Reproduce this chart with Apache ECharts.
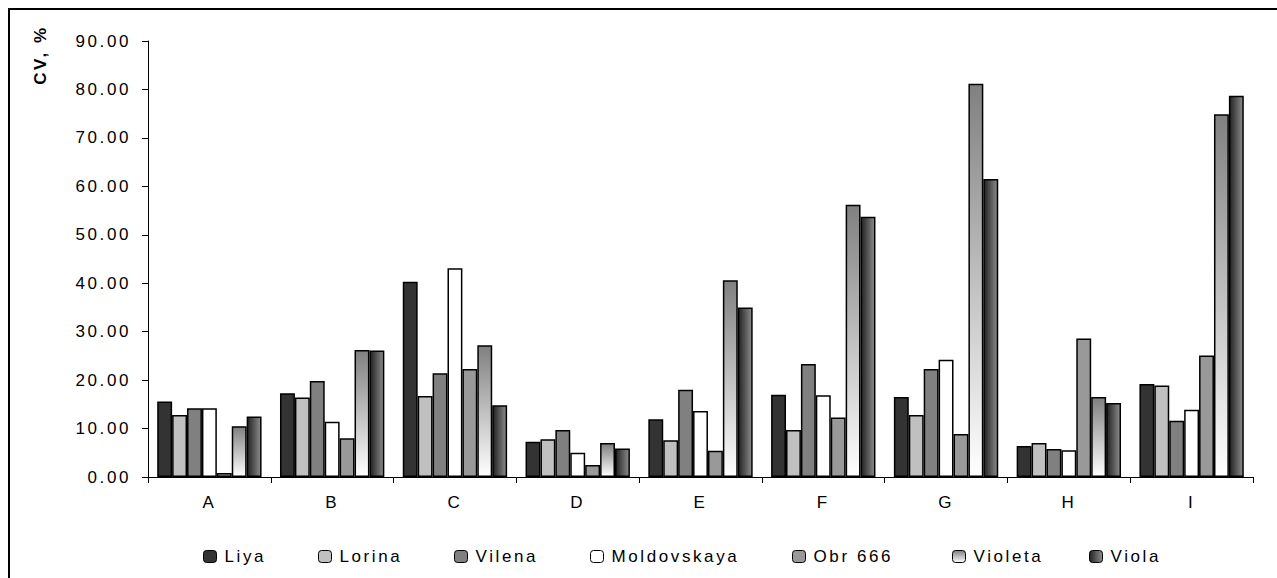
<!DOCTYPE html>
<html>
<head>
<meta charset="utf-8">
<script src="https://cdn.jsdelivr.net/npm/echarts@6/dist/echarts.min.js"></script>
<style>
  html, body { margin: 0; padding: 0; background: #fff; }
  #chart { width: 1277px; height: 578px; }
  /* the original (Excel) text is spread out */
  #chart text { letter-spacing: 2.6px; }
</style>
</head>
<body>
<div id="chart"></div>
<script>
const categories = ['A', 'B', 'C', 'D', 'E', 'F', 'G', 'H', 'I'];
const yTicks = [0, 90, 10]; // min, max, step

const liya        = [15.6, 17.3, 40.3, 7.3, 11.9, 17.0, 16.5, 6.4, 19.2];
const lorina      = [12.8, 16.4, 16.7, 7.8, 7.6, 9.7, 12.8, 7.0, 18.9];
const vilena      = [14.2, 19.8, 21.4, 9.7, 18.0, 23.3, 22.3, 5.8, 11.6];
const moldovskaya = [14.2, 11.4, 43.1, 5.0, 13.6, 16.9, 24.2, 5.5, 13.9];
const obr666      = [0.8, 8.0, 22.3, 2.5, 5.4, 12.3, 8.9, 28.6, 25.1];
const violeta     = [10.5, 26.2, 27.2, 7.0, 40.6, 56.2, 81.2, 16.5, 74.9];
const viola       = [12.5, 26.1, 14.8, 5.9, 35.0, 53.7, 61.5, 15.3, 78.7];

const font = "Arial, 'Liberation Sans', sans-serif";

const fills = {
  'Liya': '#333333',
  'Lorina': '#c0c0c0',
  'Vilena': '#808080',
  'Moldovskaya': '#ffffff',
  'Obr 666': '#999999',
  'Violeta': new echarts.graphic.LinearGradient(0, 0, 0, 1, [
    { offset: 0, color: '#808080' },
    { offset: 1, color: '#ffffff' }
  ]),
  'Viola': new echarts.graphic.LinearGradient(0, 0, 1, 0, [
    { offset: 0, color: '#222222' },
    { offset: 1, color: '#8c8c8c' }
  ])
};

const seriesData = [
  ['Liya', liya], ['Lorina', lorina], ['Vilena', vilena], ['Moldovskaya', moldovskaya],
  ['Obr 666', obr666], ['Violeta', violeta], ['Viola', viola]
];

// one legend per item so each sits where Excel put it
const legendLeft = [203, 318, 454, 590, 792, 952, 1089];

const chart = echarts.init(document.getElementById('chart'), null, { renderer: 'svg' });

chart.setOption({
  animation: false,
  backgroundColor: '#fff',
  grid: { left: 148, right: 24, top: 41, bottom: 101 },
  legend: seriesData.map(function (s, i) {
    return {
      data: [s[0]],
      left: legendLeft[i],
      top: 548,
      padding: 0,
      itemWidth: 13,
      itemHeight: 12,
      itemGap: 0,
      itemStyle: { borderColor: '#000', borderWidth: 1 },
      textStyle: { fontFamily: font, fontSize: 17, color: '#000', padding: [0, 0, 0, 3] }
    };
  }),
  xAxis: {
    type: 'category',
    data: categories,
    axisLine: { lineStyle: { color: '#000', width: 1 } },
    axisTick: { show: true, length: 6, lineStyle: { color: '#000' } },
    axisLabel: { fontFamily: font, fontSize: 17, color: '#000', margin: 17 }
  },
  yAxis: {
    type: 'value',
    min: yTicks[0],
    max: yTicks[1],
    interval: yTicks[2],
    splitLine: { show: false },
    axisLine: { show: true, lineStyle: { color: '#000', width: 1 } },
    axisTick: { show: true, length: 6, lineStyle: { color: '#000' } },
    axisLabel: {
      fontFamily: font, fontSize: 17, color: '#000', margin: 17,
      formatter: function (v) { return v.toFixed(2); }
    }
  },
  series: seriesData.map(function (s) {
    return {
      name: s[0],
      type: 'bar',
      data: s[1],
      barGap: '0%',
      barCategoryGap: '15%',
      itemStyle: { color: fills[s[0]], borderColor: '#000', borderWidth: 1.5 }
    };
  }),
  graphic: [
    {
      type: 'rect',
      shape: { x: 9, y: 9, width: 1300, height: 620 },
      style: { fill: 'none', stroke: '#000', lineWidth: 2 },
      silent: true
    },
    {
      type: 'text',
      x: 40,
      y: 55,
      rotation: Math.PI / 2,
      style: {
        text: 'CV, %',
        font: 'bold 17px ' + font,
        fill: '#000',
        textAlign: 'center',
        textVerticalAlign: 'middle'
      }
    }
  ]
});
</script>
</body>
</html>
